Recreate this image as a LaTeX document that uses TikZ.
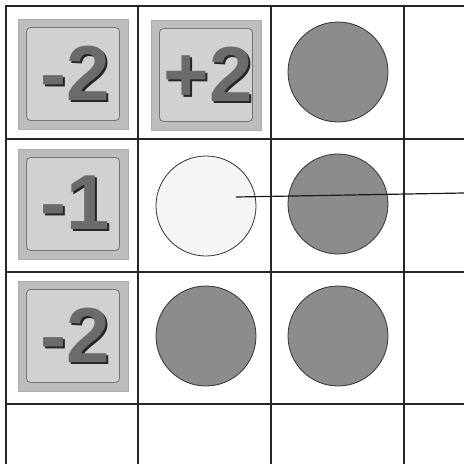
\documentclass[tikz,border=0pt]{standalone}
\usepackage{fontspec}
\newfontfamily\tilefont{Liberation Sans}
\begin{document}
\begin{tikzpicture}[x=1pt,y=-1pt,
  gridline/.style={line width=2pt, draw=black!85},
  tilebox/.style={rectangle, minimum size=110pt, inner sep=0pt, fill=black!26, draw=black!32, line width=0.6pt},
  tileinner/.style={rectangle, rounded corners=4pt, minimum size=93pt, inner sep=0pt, draw=black!55, line width=0.8pt, fill=black!18},
  tiletext/.style={inner sep=0pt, text=black!58, font=\tilefont\bfseries\fontsize{78}{78}\selectfont},
  tileshadow/.style={inner sep=0pt, text=black!85, font=\tilefont\bfseries\fontsize{78}{78}\selectfont},
  darkdisc/.style={circle, minimum size=100pt, inner sep=0pt, draw=black!80, line width=0.8pt, fill=black!45},
  lightdisc/.style={circle, minimum size=100pt, inner sep=0pt, draw=black!80, line width=0.8pt, fill=black!4},
  connector/.style={line width=1.2pt, draw=black!90}
]
\useasboundingbox (0,0) rectangle (464,464);
\fill[white] (0,0) rectangle (464,464);
% grid
\foreach \x in {6,138,271,404} \draw[gridline] (\x,5) -- (\x,464);
\foreach \y in {6,139,272,404} \draw[gridline] (5,\y) -- (464,\y);
% tiles
\node[tilebox] (t11) at (73,74) {};
\node[tileinner] (t11i) at (73,74) {};
\node[tileshadow] (t11s) at (77,75) {-2};
\node[tiletext] (t11t) at (75,73) {-2};

\node[tilebox] (t12) at (206,75) {};
\node[tileinner] (t12i) at (206,75) {};
\node[tileshadow] (t12s) at (210,76) {+2};
\node[tiletext] (t12t) at (208,74) {+2};

\node[tilebox] (t21) at (73,204) {};
\node[tileinner] (t21i) at (73,204) {};
\node[tileshadow] (t21s) at (77,205) {-1};
\node[tiletext] (t21t) at (75,203) {-1};

\node[tilebox] (t31) at (73,336) {};
\node[tileinner] (t31i) at (73,336) {};
\node[tileshadow] (t31s) at (77,337) {-2};
\node[tiletext] (t31t) at (75,335) {-2};
% discs
\node[darkdisc] (c13) at (338,72) {};
\node[lightdisc] (c22) at (206,206) {};
\node[darkdisc] (c23) at (338,204) {};
\node[darkdisc] (c32) at (206,336) {};
\node[darkdisc] (c33) at (338,336) {};
% connector
\coordinate (lstart) at (236,197);
\coordinate (lend) at (464,193);
\draw[connector] (lstart) -- (lend);
\end{tikzpicture}
\end{document}
